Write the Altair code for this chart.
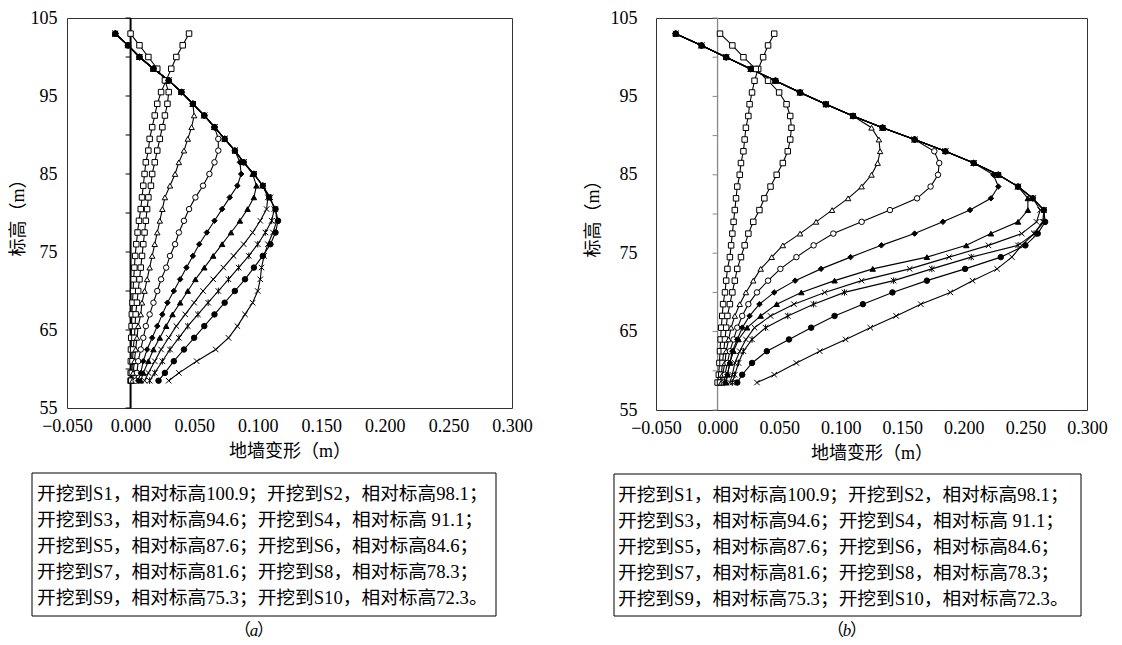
import altair as alt
import pandas as pd

# ---------------- data ----------------
ELEV = [103, 101.5, 100, 98.5, 97, 95.5, 94, 92.5, 91, 89.5, 88, 86.5, 85, 83.5, 82, 80.5,
        79, 77.5, 76, 74.5, 73, 71.5, 70, 68.5, 67, 65.5, 64, 62.5, 61, 59.5, 58.5]

SERIES = ["S1", "S2", "S3", "S4", "S5", "S6", "S7", "S8", "S9", "S10"]

# panel (a) wall deformation (m) at each elevation in ELEV
A_S1 = [0.046, 0.041, 0.036, 0.032, 0.028, 0.024, 0.021, 0.019, 0.017, 0.015, 0.014, 0.012, 0.011, 0.010, 0.009, 0.008,
        0.0066, 0.0055, 0.0045, 0.0036, 0.003, 0.0024, 0.002, 0.0015, 0.001, 0.0008, 0.0005, 0.0003, 0.0002, 0.0001, 0.0]
A_S2 = [0.0, 0.007, 0.014, 0.021, 0.027, 0.030, 0.029, 0.027, 0.025, 0.023, 0.021, 0.019, 0.017, 0.016, 0.014, 0.013,
        0.012, 0.011, 0.010, 0.009, 0.008, 0.007, 0.006, 0.005, 0.004, 0.0035, 0.003, 0.002, 0.0015, 0.001, 0.0005]
A_S3 = [-0.012, -0.002, 0.007, 0.018, 0.030, 0.040, 0.049, 0.050, 0.048, 0.045, 0.042, 0.038, 0.035, 0.031, 0.027, 0.025,
        0.023, 0.021, 0.019, 0.017, 0.015, 0.013, 0.011, 0.009, 0.008, 0.006, 0.005, 0.004, 0.003, 0.002, 0.0015]
A_S4 = [-0.012, -0.002, 0.007, 0.018, 0.030, 0.040, 0.049, 0.058, 0.066, 0.069, 0.069, 0.066, 0.062, 0.057, 0.051, 0.046,
        0.042, 0.038, 0.035, 0.031, 0.028, 0.024, 0.021, 0.018, 0.015, 0.012, 0.010, 0.008, 0.006, 0.005, 0.004]
A_S5 = [-0.012, -0.002, 0.007, 0.018, 0.030, 0.040, 0.049, 0.058, 0.066, 0.074, 0.082, 0.086, 0.087, 0.084, 0.078, 0.072,
        0.066, 0.060, 0.054, 0.049, 0.044, 0.039, 0.034, 0.029, 0.025, 0.021, 0.017, 0.013, 0.010, 0.008, 0.006]
A_S6 = [-0.012, -0.002, 0.007, 0.018, 0.030, 0.040, 0.049, 0.058, 0.066, 0.074, 0.082, 0.089, 0.096, 0.099, 0.097, 0.092,
        0.086, 0.079, 0.072, 0.065, 0.058, 0.051, 0.045, 0.039, 0.033, 0.028, 0.023, 0.018, 0.014, 0.010, 0.008]
A_S7 = [-0.012, -0.002, 0.007, 0.018, 0.030, 0.040, 0.049, 0.058, 0.066, 0.074, 0.082, 0.089, 0.097, 0.104, 0.108, 0.107,
        0.102, 0.096, 0.089, 0.081, 0.073, 0.065, 0.057, 0.050, 0.043, 0.036, 0.030, 0.024, 0.019, 0.014, 0.011]
A_S8 = [-0.012, -0.002, 0.007, 0.018, 0.030, 0.040, 0.049, 0.058, 0.066, 0.074, 0.082, 0.089, 0.097, 0.104, 0.110, 0.113,
        0.111, 0.106, 0.100, 0.093, 0.085, 0.077, 0.069, 0.061, 0.053, 0.045, 0.038, 0.031, 0.025, 0.019, 0.015]
A_S9 = [-0.012, -0.002, 0.007, 0.018, 0.030, 0.040, 0.049, 0.058, 0.066, 0.074, 0.082, 0.089, 0.097, 0.104, 0.109, 0.114,
        0.116, 0.114, 0.110, 0.104, 0.097, 0.090, 0.082, 0.074, 0.066, 0.058, 0.050, 0.042, 0.034, 0.027, 0.022]
A_S10 = [-0.012, -0.002, 0.007, 0.018, 0.030, 0.040, 0.049, 0.058, 0.066, 0.074, 0.082, 0.089, 0.097, 0.104, 0.109, 0.114,
         0.115, 0.112, 0.108, 0.105, 0.103, 0.102, 0.100, 0.096, 0.090, 0.084, 0.077, 0.067, 0.052, 0.038, 0.030]

# panel (b)
B_S1 = [0.046, 0.041, 0.037, 0.033, 0.030, 0.028, 0.026, 0.025, 0.023, 0.022, 0.021, 0.019, 0.018, 0.016, 0.015, 0.014,
        0.013, 0.012, 0.011, 0.010, 0.008, 0.007, 0.006, 0.0045, 0.0038, 0.003, 0.0025, 0.002, 0.0015, 0.001, 0.0]
B_S2 = [0.002, 0.012, 0.021, 0.031, 0.041, 0.050, 0.056, 0.059, 0.060, 0.059, 0.057, 0.053, 0.048, 0.043, 0.038, 0.034,
        0.029, 0.025, 0.022, 0.019, 0.016, 0.014, 0.012, 0.010, 0.008, 0.007, 0.006, 0.005, 0.004, 0.003, 0.002]
B_S3 = [-0.034, -0.013, 0.007, 0.027, 0.047, 0.067, 0.088, 0.110, 0.125, 0.131, 0.132, 0.130, 0.125, 0.117, 0.106, 0.093,
        0.080, 0.067, 0.053, 0.044, 0.035, 0.029, 0.023, 0.018, 0.014, 0.011, 0.009, 0.007, 0.006, 0.004, 0.003]
B_S4 = [-0.034, -0.013, 0.007, 0.027, 0.047, 0.067, 0.088, 0.110, 0.134, 0.160, 0.176, 0.180, 0.179, 0.173, 0.162, 0.140,
        0.117, 0.094, 0.078, 0.064, 0.051, 0.041, 0.032, 0.025, 0.020, 0.016, 0.013, 0.010, 0.008, 0.006, 0.005]
B_S5 = [-0.034, -0.013, 0.007, 0.027, 0.047, 0.067, 0.088, 0.110, 0.134, 0.160, 0.185, 0.208, 0.224, 0.228, 0.222, 0.205,
        0.183, 0.160, 0.133, 0.108, 0.084, 0.063, 0.046, 0.034, 0.026, 0.020, 0.016, 0.012, 0.010, 0.008, 0.006]
B_S6 = [-0.034, -0.013, 0.007, 0.027, 0.047, 0.067, 0.088, 0.110, 0.134, 0.160, 0.185, 0.208, 0.228, 0.244, 0.252, 0.252,
        0.244, 0.222, 0.202, 0.170, 0.126, 0.095, 0.068, 0.048, 0.035, 0.024, 0.017, 0.013, 0.010, 0.008, 0.007]
B_S7 = [-0.034, -0.013, 0.007, 0.027, 0.047, 0.067, 0.088, 0.110, 0.134, 0.160, 0.185, 0.208, 0.228, 0.244, 0.256, 0.262,
        0.259, 0.247, 0.220, 0.188, 0.156, 0.117, 0.087, 0.062, 0.043, 0.030, 0.023, 0.018, 0.014, 0.012, 0.010]
B_S8 = [-0.034, -0.013, 0.007, 0.027, 0.047, 0.067, 0.088, 0.110, 0.134, 0.160, 0.185, 0.208, 0.228, 0.244, 0.256, 0.265,
        0.265, 0.257, 0.244, 0.206, 0.174, 0.143, 0.103, 0.078, 0.057, 0.039, 0.028, 0.021, 0.017, 0.014, 0.012]
B_S9 = [-0.034, -0.013, 0.007, 0.027, 0.047, 0.067, 0.088, 0.110, 0.134, 0.160, 0.185, 0.208, 0.228, 0.244, 0.256, 0.265,
        0.266, 0.260, 0.250, 0.230, 0.201, 0.170, 0.142, 0.118, 0.095, 0.076, 0.058, 0.040, 0.028, 0.020, 0.016]
B_S10 = [-0.034, -0.013, 0.007, 0.027, 0.047, 0.067, 0.088, 0.110, 0.134, 0.160, 0.185, 0.208, 0.228, 0.244, 0.256, 0.265,
         0.264, 0.257, 0.247, 0.239, 0.227, 0.207, 0.189, 0.165, 0.145, 0.124, 0.104, 0.083, 0.064, 0.046, 0.032]

X_TICKS = [-0.05, 0.0, 0.05, 0.1, 0.15, 0.2, 0.25, 0.3]
Y_TICKS = [55, 60, 65, 70, 75, 80, 85, 90, 95, 100, 105]

LEGEND_LINES = [
    "开挖到S1，相对标高100.9；开挖到S2，相对标高98.1；",
    "开挖到S3，相对标高94.6；开挖到S4，相对标高 91.1；",
    "开挖到S5，相对标高87.6；开挖到S6，相对标高84.6；",
    "开挖到S7，相对标高81.6；开挖到S8，相对标高78.3；",
    "开挖到S9，相对标高75.3；开挖到S10，相对标高72.3。",
]

X_TITLE = "地墙变形（m）"
Y_TITLE = "标高（m）"

# ---------------- styles ----------------
FONT = "Liberation Serif, Noto Sans CJK SC"
X_PATH = "M-1,-1L1,1M-1,1L1,-1"
STAR_PATH = "M-1,-1L1,1M-1,1L1,-1M0,-1.2L0,1.2"
SHAPES = ["square", "square", "triangle-up", "circle", "diamond", "triangle-up",
          X_PATH, STAR_PATH, "circle", X_PATH]
FILLS = ["white", "white", "white", "white", "black", "black", "white", "white", "black", "white"]

AX = dict(labelFont=FONT, titleFont=FONT, labelFontSize=18, titleFontSize=18,
          titleFontWeight="normal", labelColor="black", titleColor="black",
          grid=False, ticks=False, domain=False, labelOverlap=False, labelFlush=False)


def make_panel(values, W, H, label_pad, title_pad, zero_color, zero_width,
               box, text_xy, cap_xy, cap_letter):
    rows = []
    for s, xs in zip(SERIES, values):
        for i, (e, x) in enumerate(zip(ELEV, xs)):
            rows.append({"series": s, "idx": i, "elev": e, "disp": x})
    df = pd.DataFrame(rows)

    xs = alt.Scale(domain=[-0.05, 0.3], nice=False, zero=False)
    ys = alt.Scale(domain=[55, 105], nice=False, zero=False)
    xax = alt.Axis(values=X_TICKS, format=".3f", title=X_TITLE, labelPadding=9,
                   titlePadding=7, **AX)
    yax = alt.Axis(values=Y_TICKS, format="d", title=Y_TITLE, labelPadding=label_pad,
                   titlePadding=title_pad, **AX)

    zero_df = pd.DataFrame({"x": [0.0], "y": [Y_TICKS[0]], "y2": [Y_TICKS[-1]]})
    zero = alt.Chart(zero_df).mark_rule(color=zero_color, strokeWidth=zero_width).encode(
        x=alt.X("x:Q", scale=xs, axis=xax), y=alt.Y("y:Q", scale=ys, axis=yax), y2="y2:Q")

    tick_df = pd.DataFrame({"x": [0.0] * len(Y_TICKS), "y": Y_TICKS})
    ticks = alt.Chart(tick_df).mark_tick(orient="horizontal", size=5, thickness=1,
                                         color=zero_color, xOffset=-2.5, opacity=1).encode(
        x="x:Q", y="y:Q")

    lines = alt.Chart(df).mark_line(color="black", strokeWidth=1.1).encode(
        x="disp:Q", y="elev:Q", detail="series:N", order="idx:Q")

    pts = alt.Chart(df).mark_point(filled=True, stroke="black", strokeWidth=1,
                                   size=30, opacity=1).encode(
        x="disp:Q", y="elev:Q",
        shape=alt.Shape("series:N", scale=alt.Scale(domain=SERIES, range=SHAPES), legend=None),
        fill=alt.Fill("series:N", scale=alt.Scale(domain=SERIES, range=FILLS), legend=None))

    one = pd.DataFrame({"k": [0]})
    bx0, bx1, by0, by1 = box
    rect = alt.Chart(one).mark_rect(fill="white", fillOpacity=0, stroke="black",
                                    strokeWidth=1).encode(
        x=alt.value(bx0), x2=alt.value(bx1), y=alt.value(by0), y2=alt.value(by1))
    txt = alt.Chart(one).mark_text(text=LEGEND_LINES, align="left", baseline="top",
                                   lineHeight=26, fontSize=18.7, font=FONT, color="black").encode(
        x=alt.value(text_xy[0]), y=alt.value(text_xy[1]))
    cx, cy = cap_xy
    c1 = alt.Chart(one).mark_text(text="（", align="right", baseline="middle", fontSize=17,
                                  font=FONT, color="black").encode(x=alt.value(cx - 3), y=alt.value(cy))
    c2 = alt.Chart(one).mark_text(text=cap_letter, align="center", baseline="middle", fontSize=17,
                                  font=FONT, fontStyle="italic", color="black").encode(
        x=alt.value(cx), y=alt.value(cy))
    c3 = alt.Chart(one).mark_text(text="）", align="left", baseline="middle", fontSize=17,
                                  font=FONT, color="black").encode(x=alt.value(cx + 3), y=alt.value(cy))

    return alt.layer(zero, ticks, lines, pts, rect, txt, c1, c2, c3).properties(width=W, height=H)


panel_a = make_panel([A_S1, A_S2, A_S3, A_S4, A_S5, A_S6, A_S7, A_S8, A_S9, A_S10],
                     445, 390, 10, 3, "black", 2,
                     (-35, 429, 455, 598), (-30, 467), (187, 613), "a")
panel_b = make_panel([B_S1, B_S2, B_S3, B_S4, B_S5, B_S6, B_S7, B_S8, B_S9, B_S10],
                     431, 392, 19, 8, "#888888", 1.3,
                     (-42, 425, 456, 598), (-38, 468), (191, 613), "b")

chart = alt.hconcat(panel_a, panel_b, spacing=144, bounds="flush").properties(
    padding={"left": 0, "top": 0, "right": 0, "bottom": 0}
).configure(font=FONT, background="white").configure_view(
    stroke="#333333", strokeWidth=1)

chart.save("out.html", embed_options={"renderer": "svg", "actions": False})
